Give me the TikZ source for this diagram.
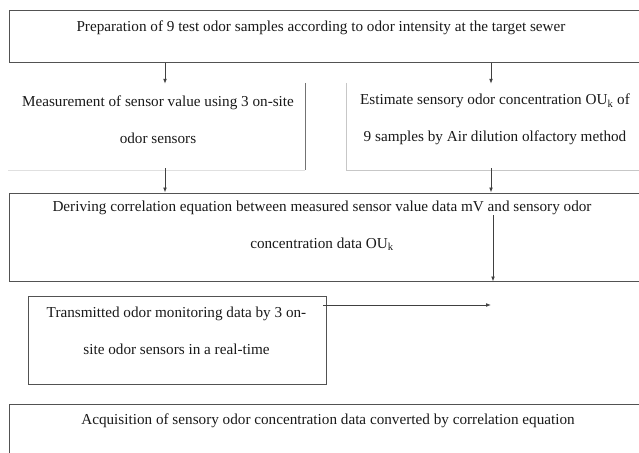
\documentclass[tikz,border=0pt]{standalone}
\usepackage{fontspec}
\setmainfont{Liberation Serif}
\usetikzlibrary{arrows.meta}
\begin{document}
\begin{tikzpicture}[x=1pt,y=-1pt,
  boxline/.style={draw=black!68, line width=1pt},
  box/.style={boxline, rectangle, inner sep=0pt},
  ghost/.style={rectangle, inner sep=0pt},
  txt/.style={inner sep=0pt, align=center, font=\fontsize{15.2}{37}\selectfont, text=black!90},
  arr/.style={draw=black!75, line width=0.8pt, -{Latex[length=5pt,width=3.8pt]}}]
\useasboundingbox (0,0) rectangle (639,452);
\clip (0,0) rectangle (639,452);
% boxes
\node[box, minimum width=636pt, minimum height=51pt] (b1) at (327,36.5) {};
\node[ghost, minimum width=297pt, minimum height=87pt] (mL) at (156.5,126.5) {};
\node[ghost, minimum width=298pt, minimum height=87pt] (mR) at (496,126.5) {};
\node[box, minimum width=636pt, minimum height=88pt] (b3) at (327,237) {};
\node[box, minimum width=298pt, minimum height=88pt] (b4) at (177,340) {};
\node[box, minimum width=636pt, minimum height=66pt] (b5) at (327,437) {};
% partial borders of middle boxes
\draw[draw=black!55, line width=1pt] (mL.north east) -- (mL.south east);
\draw[draw=black!12, line width=0.8pt] (mL.south west) -- (mL.south east);
\draw[draw=black!22, line width=0.8pt] (mR.north west) -- (mR.south west) -- (mR.south east);
% texts
\node[txt] (t1) at (321,28) {Preparation of 9 test odor samples according to odor intensity at the target sewer};
\node[txt] (tL) at (158,119.5) {Measurement of sensor value using 3 on-site\\odor sensors};
\node[txt] (tR) at (495,119.5) {Estimate sensory odor concentration OU\textsubscript{k} of\\9 samples by Air dilution olfactory method};
\node[txt] (t3) at (322,225.5) {Deriving correlation equation between measured sensor value data mV and sensory odor\\concentration data OU\textsubscript{k}};
\node[txt] (t4) at (176.5,331) {Transmitted odor monitoring data by 3 on-\\site odor sensors in a real-time};
\node[txt] (t5) at (328,421) {Acquisition of sensory odor concentration data converted by correlation equation};
% arrow positions
\coordinate (xa) at (165,0);
\coordinate (xb) at (491,0);
\coordinate (c5) at (493,215);
\coordinate (c6) at (323,305);
\coordinate (c6e) at (491,305);
% connectors
\draw[arr] (b1.south -| xa) -- ([yshift=-1pt]mL.north -| xa);
\draw[arr] (b1.south -| xb) -- ([yshift=-1pt]mR.north -| xb);
\draw[arr] ([yshift=2pt]mL.south -| xa) -- (b3.north -| xa);
\draw[arr] ([yshift=2pt]mR.south -| xb) -- (b3.north -| xb);
\draw[arr] (c5) -- (b3.south -| c5);
\draw[arr] (c6) -- (c6e);
\end{tikzpicture}
\end{document}
